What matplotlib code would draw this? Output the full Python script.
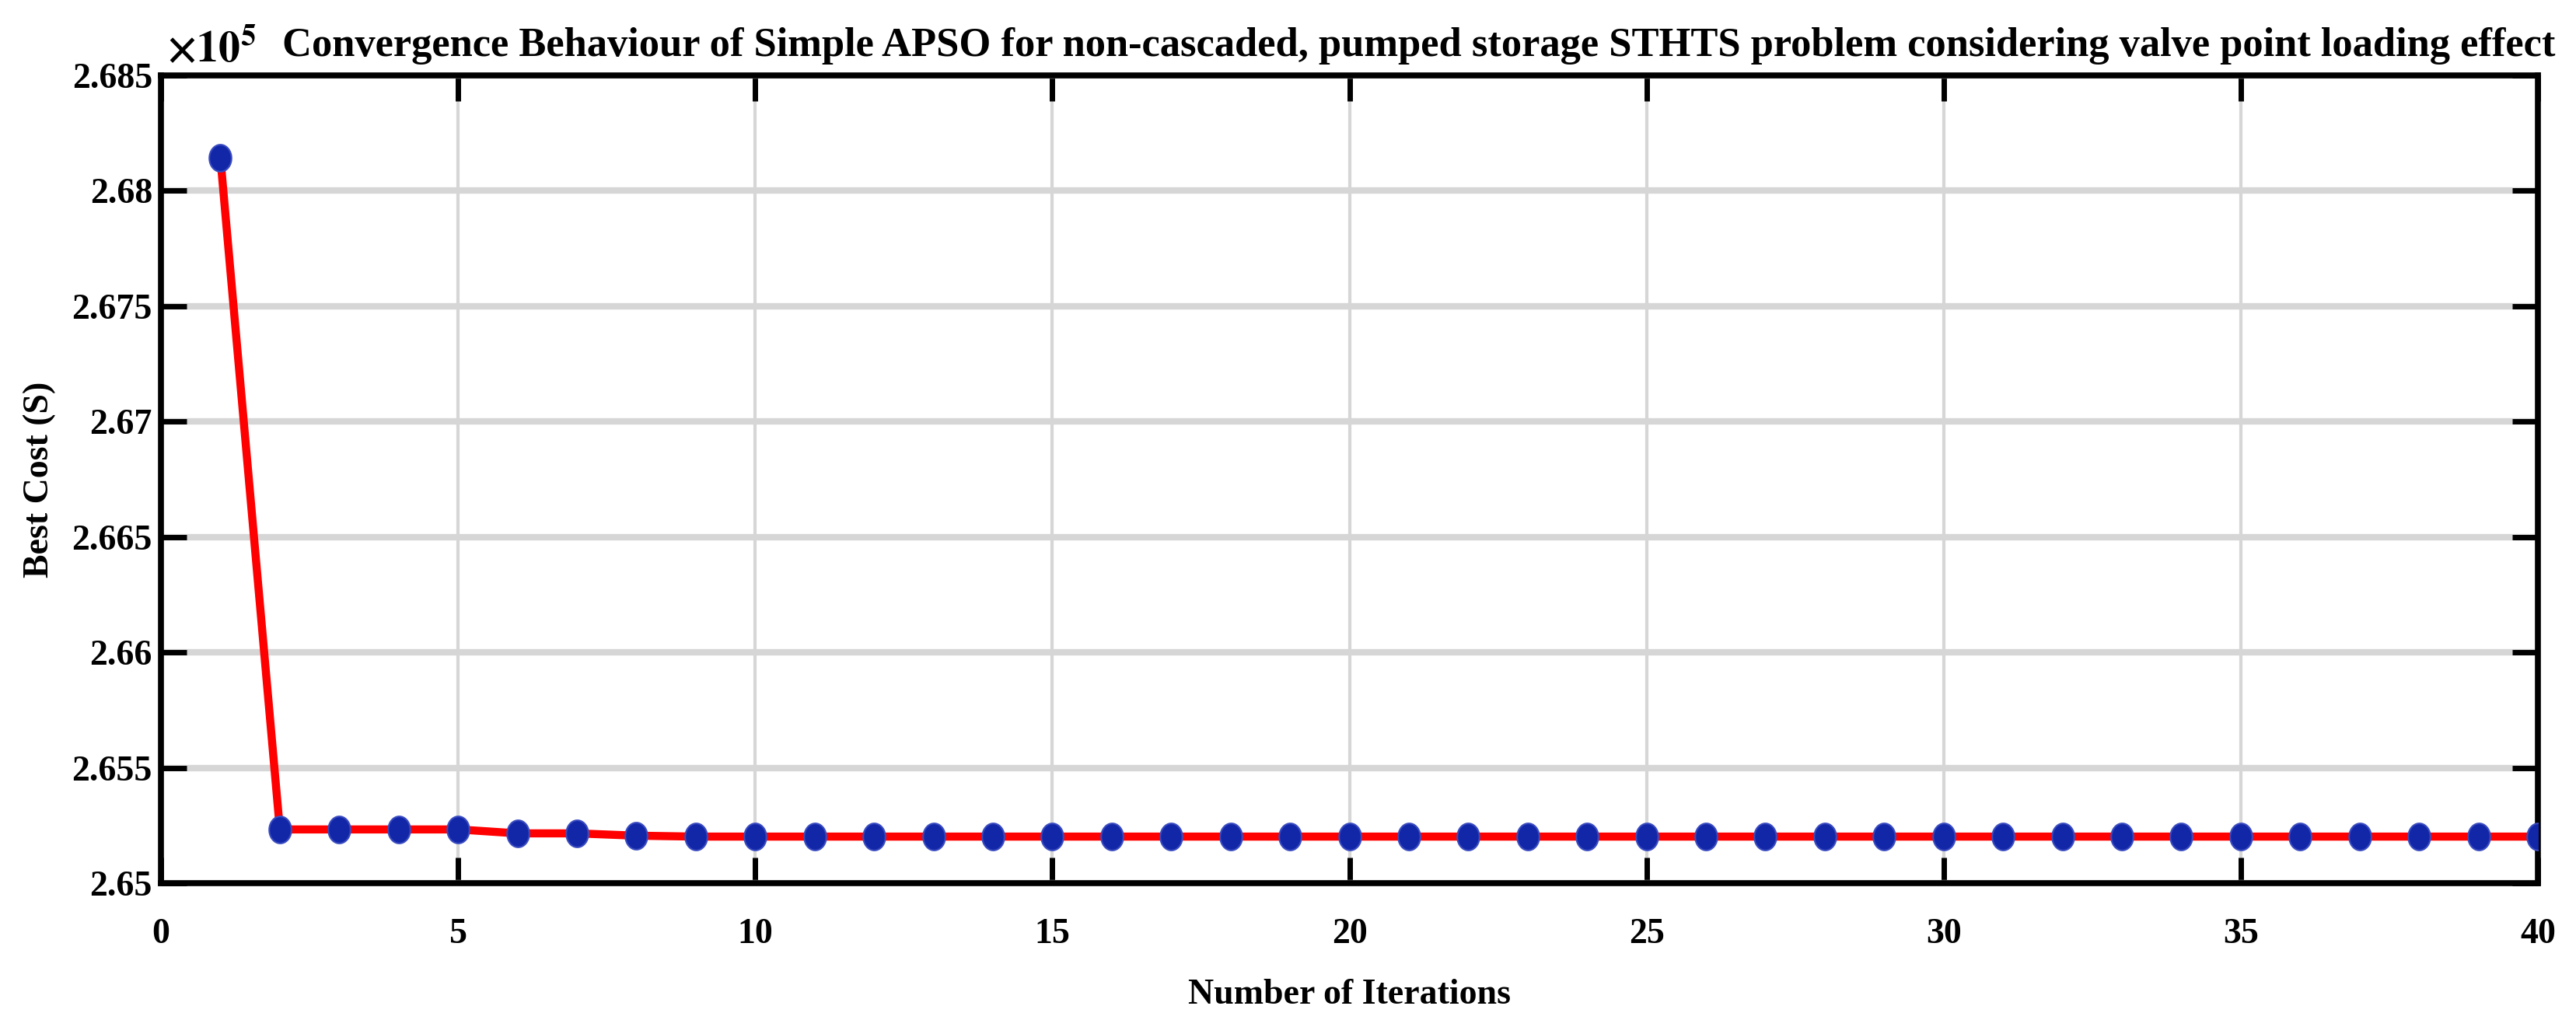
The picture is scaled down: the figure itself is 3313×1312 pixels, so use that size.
import numpy as np
import matplotlib
matplotlib.use("Agg")
from matplotlib import pyplot as plt
from matplotlib.path import Path
from matplotlib.ticker import FuncFormatter

# data
iterations = list(range(1, 41))
best_cost = [268142, 265233, 265233, 265233, 265233, 265216, 265216, 265206,
             265202, 265202, 265202, 265202, 265202, 265202, 265202, 265202,
             265202, 265202, 265202, 265202, 265202, 265202, 265202, 265202,
             265202, 265202, 265202, 265202, 265202, 265202, 265202, 265202,
             265202, 265202, 265202, 265202, 265202, 265202, 265202, 265202]

x_ticks = [0, 5, 10, 15, 20, 25, 30, 35, 40]
y_ticks = [265000, 265500, 266000, 266500, 267000, 267500, 268000, 268500]

title_txt = "Convergence Behaviour of Simple APSO for non-cascaded, pumped storage STHTS problem considering valve point loading effect"
x_label = "Number of Iterations"
y_label = "Best Cost (S)"

plt.rcParams['font.family'] = ['Liberation Serif', 'DejaVu Serif']
plt.rcParams['font.weight'] = 'bold'
plt.rcParams['mathtext.fontset'] = 'stix'

# slightly tall ellipse marker (the reference is stretched vertically)
t = np.linspace(0, 2 * np.pi, 60)
ellipse = Path(np.column_stack([0.82 * np.cos(t), np.sin(t)]), closed=True)

fig = plt.figure(figsize=(33.13, 13.12), dpi=100)
ax = fig.add_axes([0.0625, 0.1341, 0.9227, 0.792])

ax.plot(iterations, best_cost, color='#ff0000', lw=7.5, zorder=3,
        marker=ellipse, markersize=25, markerfacecolor='#1226a8',
        markeredgecolor='#3a4cc0', markeredgewidth=1.5)

ax.set_xlim(0, 40)
ax.set_ylim(265000, 268500)
ax.set_xticks(x_ticks)
ax.set_yticks(y_ticks)
ax.yaxis.set_major_formatter(FuncFormatter(lambda v, p: "{:g}".format(round(v / 1e5, 4))))

ax.xaxis.grid(True, color='#d6d6d6', lw=3)
ax.yaxis.grid(True, color='#d6d6d6', lw=6)
ax.set_axisbelow(True)

ax.tick_params(axis='both', direction='in', length=24, width=5, colors='black',
               top=True, right=True, labelsize=33)
ax.tick_params(axis='x', pad=32)
ax.tick_params(axis='y', pad=8)
for lab in ax.get_xticklabels() + ax.get_yticklabels():
    lab.set_fontweight('bold')

for s in ax.spines.values():
    s.set_linewidth(5.5)
    s.set_color('black')

ax.set_xlabel(x_label, fontsize=33, fontweight='bold', labelpad=26)
ax.set_ylabel(y_label, fontsize=33, fontweight='bold', labelpad=15)

ttl = fig.text(363 / 3313, 1 - 72 / 1312, title_txt, fontsize=40, fontweight='bold',
               ha='left', va='baseline')
# shrink the title so it spans the same width as in the reference
fig.canvas.draw()
w = ttl.get_window_extent().width
ttl.set_fontsize(40 * 2927 / w)

fig.text(214 / 3313, 1 - 80 / 1312, r'$\times10^{5}$', fontsize=40,
         ha='left', va='baseline')

fig.savefig("out.png", dpi=100)
